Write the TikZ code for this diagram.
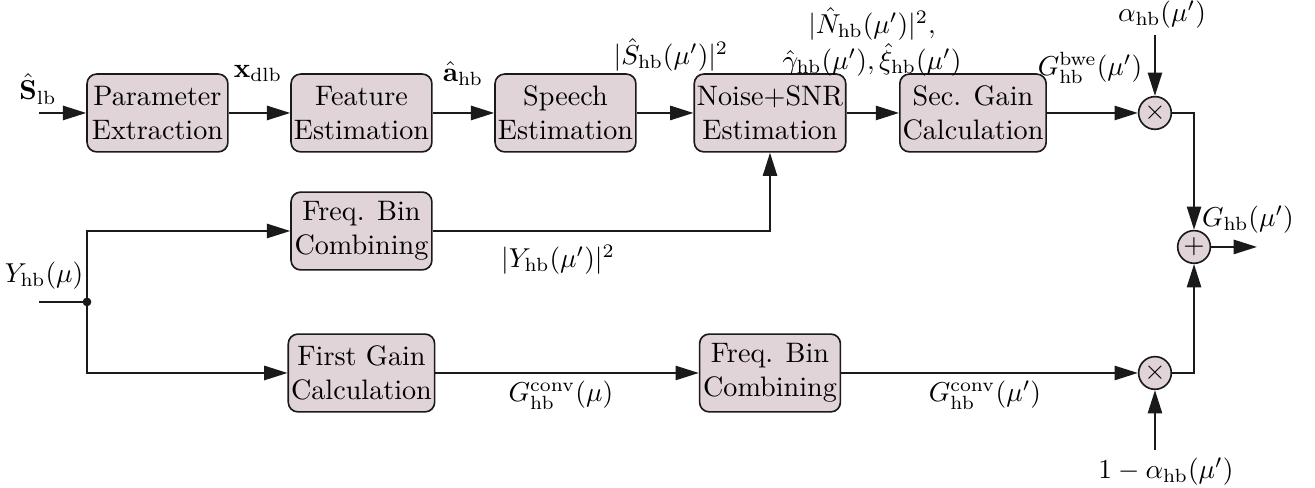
\documentclass[tikz,border=0pt]{standalone}
\usepackage{amsmath}
\usetikzlibrary{arrows.meta,positioning,calc}
\definecolor{BlockRose}{HTML}{E0D4D9}
\definecolor{LineBlack}{HTML}{1A1A1A}

\begin{document}
\begin{tikzpicture}[
      block/.style={draw=LineBlack,line width=0.6pt,rounded corners=3.5pt,fill=BlockRose,
                    align=center,minimum width=1.81cm,minimum height=1.0cm,inner sep=1pt,
                    font=\fontsize{10.3}{12.4}\selectfont},
      opnode/.style={circle,draw=LineBlack,line width=0.6pt,fill=BlockRose,
                     minimum size=0.42cm,inner sep=0pt},
      arr/.style={-{Triangle[length=8.5pt,width=5.2pt]},line width=0.7pt,LineBlack},
      wire/.style={line width=0.7pt,LineBlack},
    ]
    \useasboundingbox (0,0) rectangle (16.902,6.272);
    % Upper chain
    \node[block] (param)   at (2.024,4.820)  {Parameter\\Extraction};
    \node[block] (feature) at (4.646,4.820)  {Feature\\Estimation};
    \node[block] (speech)  at (7.268,4.820)  {Speech\\Estimation};
    \node[block] (noise)   at (9.897,4.820)  {Noise+SNR\\Estimation};
    \node[block] (secgain) at (12.506,4.820) {Sec. Gain\\Calculation};
    % Middle and lower chain
    \node[block] (binup)   at (4.646,3.303)  {Freq. Bin\\Combining};
    \node[block] (firstgain) at (4.646,1.478) {First Gain\\Calculation};
    \node[block] (bindown) at (9.897,1.478)  {Freq. Bin\\Combining};
    % Mixing
    \node[opnode] (multup)   at (14.845,4.820) {$\times$};
    \node[opnode] (multdown) at (14.845,1.478) {$\times$};
    \node[opnode] (sum)      at (15.347,3.098) {$+$};

    \coordinate (sin)    at (0.501,4.820);
    \coordinate (yin)    at (0.501,2.391);
    \coordinate (split)  at (1.118,2.391);
    \coordinate (alin)   at (14.845,5.822);
    \coordinate (almin)  at (14.845,0.488);
    \coordinate (gout)   at (16.156,3.098);

    % Labels
    \node (lblslb)   at (0.488,5.128)  {$\hat{\mathbf{S}}_\mathrm{lb}$};
    \node (lblxdlb)  at (3.316,5.327)  {$\mathbf{x}_\mathrm{dlb}$};
    \node (lblahb)   at (5.951,5.327)  {$\hat{\mathbf{a}}_\mathrm{hb}$};
    \node (lblshb)   at (8.624,5.565)  {$|\hat{S}_\mathrm{hb}(\mu')|^2$};
    \node[align=center] (lblnoise) at (11.208,5.732)
        {$|\hat{N}_\mathrm{hb}(\mu')|^2,$\\ $\hat{\gamma}_\mathrm{hb}(\mu'),\hat{\xi}_\mathrm{hb}(\mu')$};
    \node (lblbwe)   at (14.010,5.398) {$G_\mathrm{hb}^\mathrm{bwe}(\mu')$};
    \node (lblalpha) at (14.935,6.080) {$\alpha_\mathrm{hb}(\mu')$};
    \node (lblgout)  at (16.040,3.445) {$G_\mathrm{hb}(\mu')$};
    \node (lblalmin) at (14.986,0.215) {$1-\alpha_\mathrm{hb}(\mu')$};
    \node (lblyin)   at (0.566,2.725)  {$Y_\mathrm{hb}(\mu)$};
    \node (lblyhb)   at (7.172,2.931)  {$|Y_\mathrm{hb}(\mu')|^2$};
    \node (lblconv)  at (7.210,1.195)  {$G_\mathrm{hb}^\mathrm{conv}(\mu)$};
    \node (lblconvp) at (12.660,1.195) {$G_\mathrm{hb}^\mathrm{conv}(\mu')$};

    \draw[arr] (sin) -- (param.west);
    \draw[arr] (param) -- (feature);
    \draw[arr] (feature) -- (speech);
    \draw[arr] (speech) -- (noise);
    \draw[arr] (noise) -- (secgain);
    \draw[arr] (secgain) -- (multup);
    \draw[arr] (alin) -- (multup.north);
    \draw[arr] (multup.east) -| (sum.north);
    \draw[arr] (multdown.east) -| (sum.south);
    \draw[arr] (sum.east) -- (gout);
    \draw[arr] (almin) -- (multdown.south);

    \draw[wire] (yin) -- (split);
    \fill[LineBlack] (split) circle (1.6pt);
    \draw[arr] (split) |- (binup.west);
    \draw[arr] (split) |- (firstgain.west);
    \draw[arr] (binup.east) -| (noise.south);
    \draw[arr] (firstgain) -- (bindown);
    \draw[arr] (bindown) -- (multdown);
  \end{tikzpicture}
\end{document}
